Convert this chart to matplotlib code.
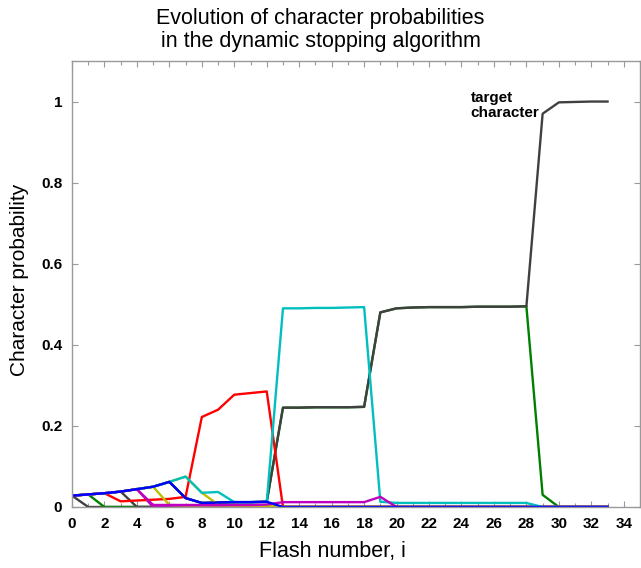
import matplotlib
matplotlib.use("Agg")
import matplotlib.pyplot as plt
from matplotlib.ticker import MultipleLocator, FixedLocator, FixedFormatter
import numpy as np

plt.rcParams["font.family"] = ["Liberation Sans", "DejaVu Sans"]

FLASH = list(range(34))

# main candidates
TARGET = [0.028, 0.031, 0.034, 0.038, 0.044, 0.050, 0.062, 0.022, 0.010, 0.011,
          0.012, 0.012, 0.013, 0.245, 0.245, 0.246, 0.246, 0.246, 0.247, 0.480,
          0.490, 0.492, 0.493, 0.493, 0.493, 0.494, 0.494, 0.494, 0.495, 0.970,
          0.998, 0.999, 1.000, 1.000]
SECOND = [0.028, 0.031, 0.034, 0.038, 0.044, 0.050, 0.062, 0.022, 0.010, 0.011,
          0.012, 0.012, 0.013, 0.245, 0.245, 0.246, 0.246, 0.246, 0.247, 0.480,
          0.490, 0.492, 0.493, 0.493, 0.493, 0.494, 0.494, 0.494, 0.495, 0.030,
          0.000, 0.000, 0.000, 0.000]
RED = [0.028, 0.031, 0.034, 0.014, 0.016, 0.018, 0.020, 0.025, 0.222, 0.240,
       0.277, 0.281, 0.285, 0.000, 0.000, 0.000, 0.000, 0.000, 0.000, 0.000,
       0.000, 0.000, 0.000, 0.000, 0.000, 0.000, 0.000, 0.000, 0.000, 0.000,
       0.000, 0.000, 0.000, 0.000]
CYAN = [0.028, 0.031, 0.034, 0.038, 0.044, 0.050, 0.062, 0.075, 0.035, 0.037,
        0.012, 0.012, 0.012, 0.490, 0.490, 0.491, 0.491, 0.492, 0.493, 0.013,
        0.010, 0.010, 0.010, 0.010, 0.010, 0.010, 0.010, 0.010, 0.010, 0.000,
        0.000, 0.000, 0.000, 0.000]
YELLOW_A = [0.028, 0.031, 0.034, 0.038, 0.044, 0.050, 0.062, 0.075, 0.035, 0.006,
            0.004, 0.004, 0.004, 0.000, 0.000, 0.000, 0.000, 0.000, 0.000, 0.000,
            0.000, 0.000, 0.000, 0.000, 0.000, 0.000, 0.000, 0.000, 0.000, 0.000,
            0.000, 0.000, 0.000, 0.000]
YELLOW_B = [0.028, 0.031, 0.034, 0.038, 0.044, 0.050, 0.005, 0.004, 0.004, 0.004,
            0.004, 0.004, 0.003, 0.000, 0.000, 0.000, 0.000, 0.000, 0.000, 0.000,
            0.000, 0.000, 0.000, 0.000, 0.000, 0.000, 0.000, 0.000, 0.000, 0.000,
            0.000, 0.000, 0.000, 0.000]
MAGENTA = [0.028, 0.031, 0.034, 0.038, 0.044, 0.005, 0.005, 0.005, 0.005, 0.005,
           0.005, 0.005, 0.006, 0.012, 0.012, 0.012, 0.012, 0.012, 0.012, 0.025,
           0.000, 0.000, 0.000, 0.000, 0.000, 0.000, 0.000, 0.000, 0.000, 0.000,
           0.000, 0.000, 0.000, 0.000]
BLUE = [0.028, 0.031, 0.034, 0.038, 0.044, 0.050, 0.062, 0.022, 0.010, 0.011,
        0.012, 0.012, 0.013, 0.000, 0.000, 0.000, 0.000, 0.000, 0.000, 0.000,
        0.000, 0.000, 0.000, 0.000, 0.000, 0.000, 0.000, 0.000, 0.000, 0.000,
        0.000, 0.000, 0.000, 0.000]

# characters that drop out early: (flash where it leaves the envelope, start value)
DROPS = [(0, 0.028, "k"), (1, 0.031, "g"), (3, 0.038, "k"), (4, 0.044, "m")]

COL = {"b": (0, 0, 1), "g": (0, 0.5, 0), "r": (1, 0, 0), "c": (0, 0.75, 0.75),
       "m": (0.75, 0, 0.75), "y": (0.75, 0.75, 0), "k": (0.25, 0.25, 0.25)}

YTICKS = [0, 0.2, 0.4, 0.6, 0.8, 1]
YLABELS = ["0", "0.2", "0.4", "0.6", "0.8", "1"]

fig = plt.figure(figsize=(6.41, 5.68), dpi=100)
ax = fig.add_axes([72 / 641, 1 - 507 / 568, 568 / 641, 446 / 568])

lw = 1.7
ax.plot(FLASH, SECOND, color=COL["g"], lw=lw)
ax.plot(FLASH, TARGET, color=COL["k"], lw=lw)
for start, v, c in DROPS:
    vals = [np.nan] * start + [v] + [0.0] * (len(FLASH) - start - 1)
    ax.plot(FLASH, vals, color=COL[c], lw=lw)
ax.plot(FLASH, RED, color=COL["r"], lw=lw)
ax.plot(FLASH, YELLOW_B, color=COL["y"], lw=lw)
ax.plot(FLASH, YELLOW_A, color=COL["y"], lw=lw)
ax.plot(FLASH, CYAN, color=COL["c"], lw=lw)
ax.plot(FLASH, MAGENTA, color=COL["m"], lw=lw)
ax.plot(FLASH, BLUE, color=COL["b"], lw=lw)

ax.set_xlim(0, 35.0)
ax.set_ylim(0, 1.1)
ax.xaxis.set_major_locator(MultipleLocator(2))
ax.xaxis.set_minor_locator(MultipleLocator(1))
ax.yaxis.set_major_locator(FixedLocator(YTICKS))
ax.yaxis.set_major_formatter(FixedFormatter(YLABELS))
ax.tick_params(which="both", direction="in", top=True, right=True,
               color="#999999", width=0.8)
ax.tick_params(which="major", length=4, labelsize=11, pad=7)
ax.tick_params(which="minor", length=3)
for lab in ax.get_xticklabels() + ax.get_yticklabels():
    lab.set_fontweight("bold")
for s in ax.spines.values():
    s.set_color("#999999")
    s.set_linewidth(1.0)

ax.text(24.55, 0.99, "target\ncharacter", fontsize=11, fontweight="bold",
        ha="left", va="center", linespacing=1.15)

fig.text(0.5, 1 - 30 / 568, "Evolution of character probabilities\nin the dynamic stopping algorithm",
         ha="center", va="center", fontsize=15.5, linespacing=1.15)
fig.text(332 / 641, 1 - 551 / 568, "Flash number, i", ha="center", va="center",
         fontsize=15.5)
fig.text(20 / 641, 1 - 280 / 568, "Character probability", ha="center",
         va="center", rotation=90, fontsize=15)

fig.savefig("out.png", dpi=100)
